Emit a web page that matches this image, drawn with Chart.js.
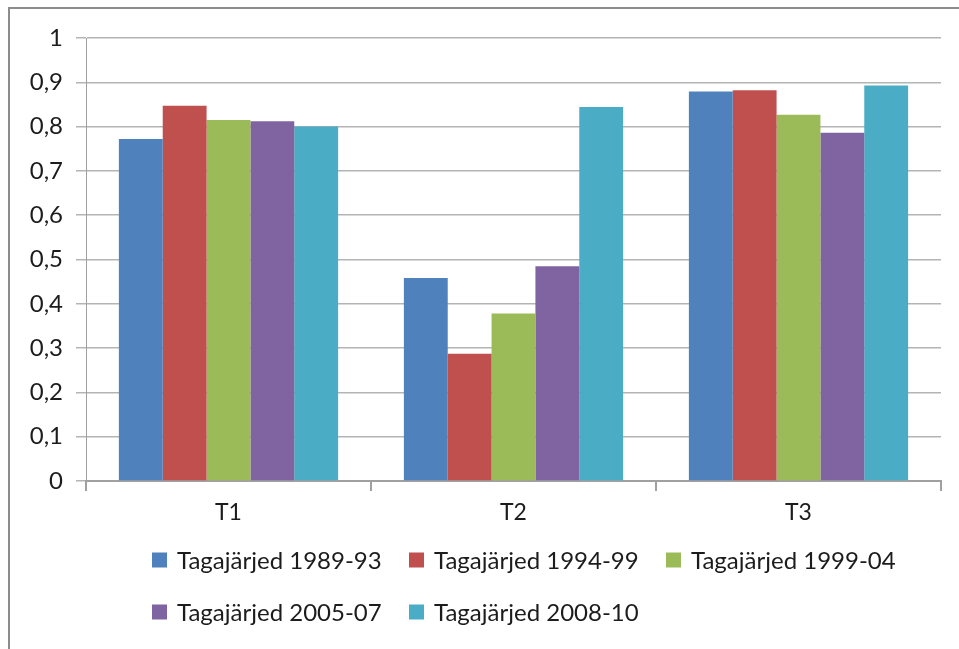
<!DOCTYPE html>
<html>
<head>
<meta charset="utf-8">
<script src="https://cdn.jsdelivr.net/npm/chart.js@4.4.1/dist/chart.umd.min.js"></script>
<style>
  html, body { margin: 0; padding: 0; background: #ffffff; overflow: hidden; width: 959px; height: 649px; }
  #frame { position: absolute; left: 8px; top: 7px; width: 1100px; height: 800px;
           border-left: 2px solid #8c8c8c; border-top: 2px solid #8c8c8c; box-sizing: border-box; }
  #c { position: absolute; left: 0; top: 0; z-index: 1; }
</style>
</head>
<body>
<div id="frame"></div>
<canvas id="c" width="959" height="649"></canvas>
<script>
const categories = ['T1', 'T2', 'T3'];
const seriesNames = ['Tagajärjed 1989-93', 'Tagajärjed 1994-99', 'Tagajärjed 1999-04', 'Tagajärjed 2005-07', 'Tagajärjed 2008-10'];
const s1989 = [0.772, 0.458, 0.879];
const s1994 = [0.847, 0.287, 0.882];
const s1999 = [0.815, 0.378, 0.827];
const s2005 = [0.812, 0.485, 0.786];
const s2008 = [0.800, 0.844, 0.893];
const yTickLabels = ['0', '0,1', '0,2', '0,3', '0,4', '0,5', '0,6', '0,7', '0,8', '0,9', '1'];
const colors = ['#4F81BD', '#C0504D', '#9BBB59', '#8064A2', '#4BACC6'];

const seriesValues = [s1989, s1994, s1999, s2005, s2008];
const FONT = 'Lato';
const TEXT = '#1c1c1c';
const GRID = '#b4b4b4';
const AXIS = '#a0a0a0';

const legendPlugin = {
  id: 'officeLegend',
  afterDraw(chart) {
    const ctx = chart.ctx;
    const cols = [152, 409, 666];
    const rows = [560, 612];
    const box = 15;
    ctx.save();
    ctx.font = '24px ' + FONT;
    ctx.textBaseline = 'middle';
    ctx.textAlign = 'left';
    chart.data.datasets.forEach((ds, i) => {
      const x = cols[i % 3];
      const y = rows[Math.floor(i / 3)];
      ctx.fillStyle = ds.backgroundColor;
      ctx.fillRect(x, y - box / 2, box, box);
      ctx.fillStyle = TEXT;
      ctx.fillText(ds.label, x + box + 10, y + 1);
    });
    ctx.restore();
  }
};

new Chart(document.getElementById('c'), {
  type: 'bar',
  data: {
    labels: categories,
    datasets: seriesNames.map((name, i) => ({
      label: name,
      data: seriesValues[i],
      backgroundColor: colors[i],
      borderWidth: 0,
      categoryPercentage: 5 / 6.5,
      barPercentage: 1.0
    }))
  },
  options: {
    responsive: false,
    animation: false,
    events: [],
    layout: { padding: { top: 38, right: 18, left: 0, bottom: 118 } },
    plugins: {
      legend: { display: false },
      tooltip: { enabled: false }
    },
    scales: {
      x: {
        grid: { display: true, offset: true, drawOnChartArea: false, drawTicks: true, tickLength: 10, color: AXIS, lineWidth: 2 },
        border: { display: true, color: AXIS, width: 2 },
        ticks: { color: TEXT, font: { family: FONT, size: 23 }, padding: 8 },
        afterFit(scale) { scale.height = 50; }
      },
      y: {
        min: 0,
        max: 1,
        grid: { color: GRID, lineWidth: 1.5, tickLength: 10, drawTicks: true },
        border: { display: true, color: AXIS, width: 1 },
        ticks: {
          stepSize: 0.1,
          color: TEXT,
          font: { family: FONT, size: 24 },
          padding: 13,
          callback: (v, i) => yTickLabels[i]
        },
        afterFit(scale) { scale.width = 86; }
      }
    }
  },
  plugins: [legendPlugin]
});
</script>
</body>
</html>
